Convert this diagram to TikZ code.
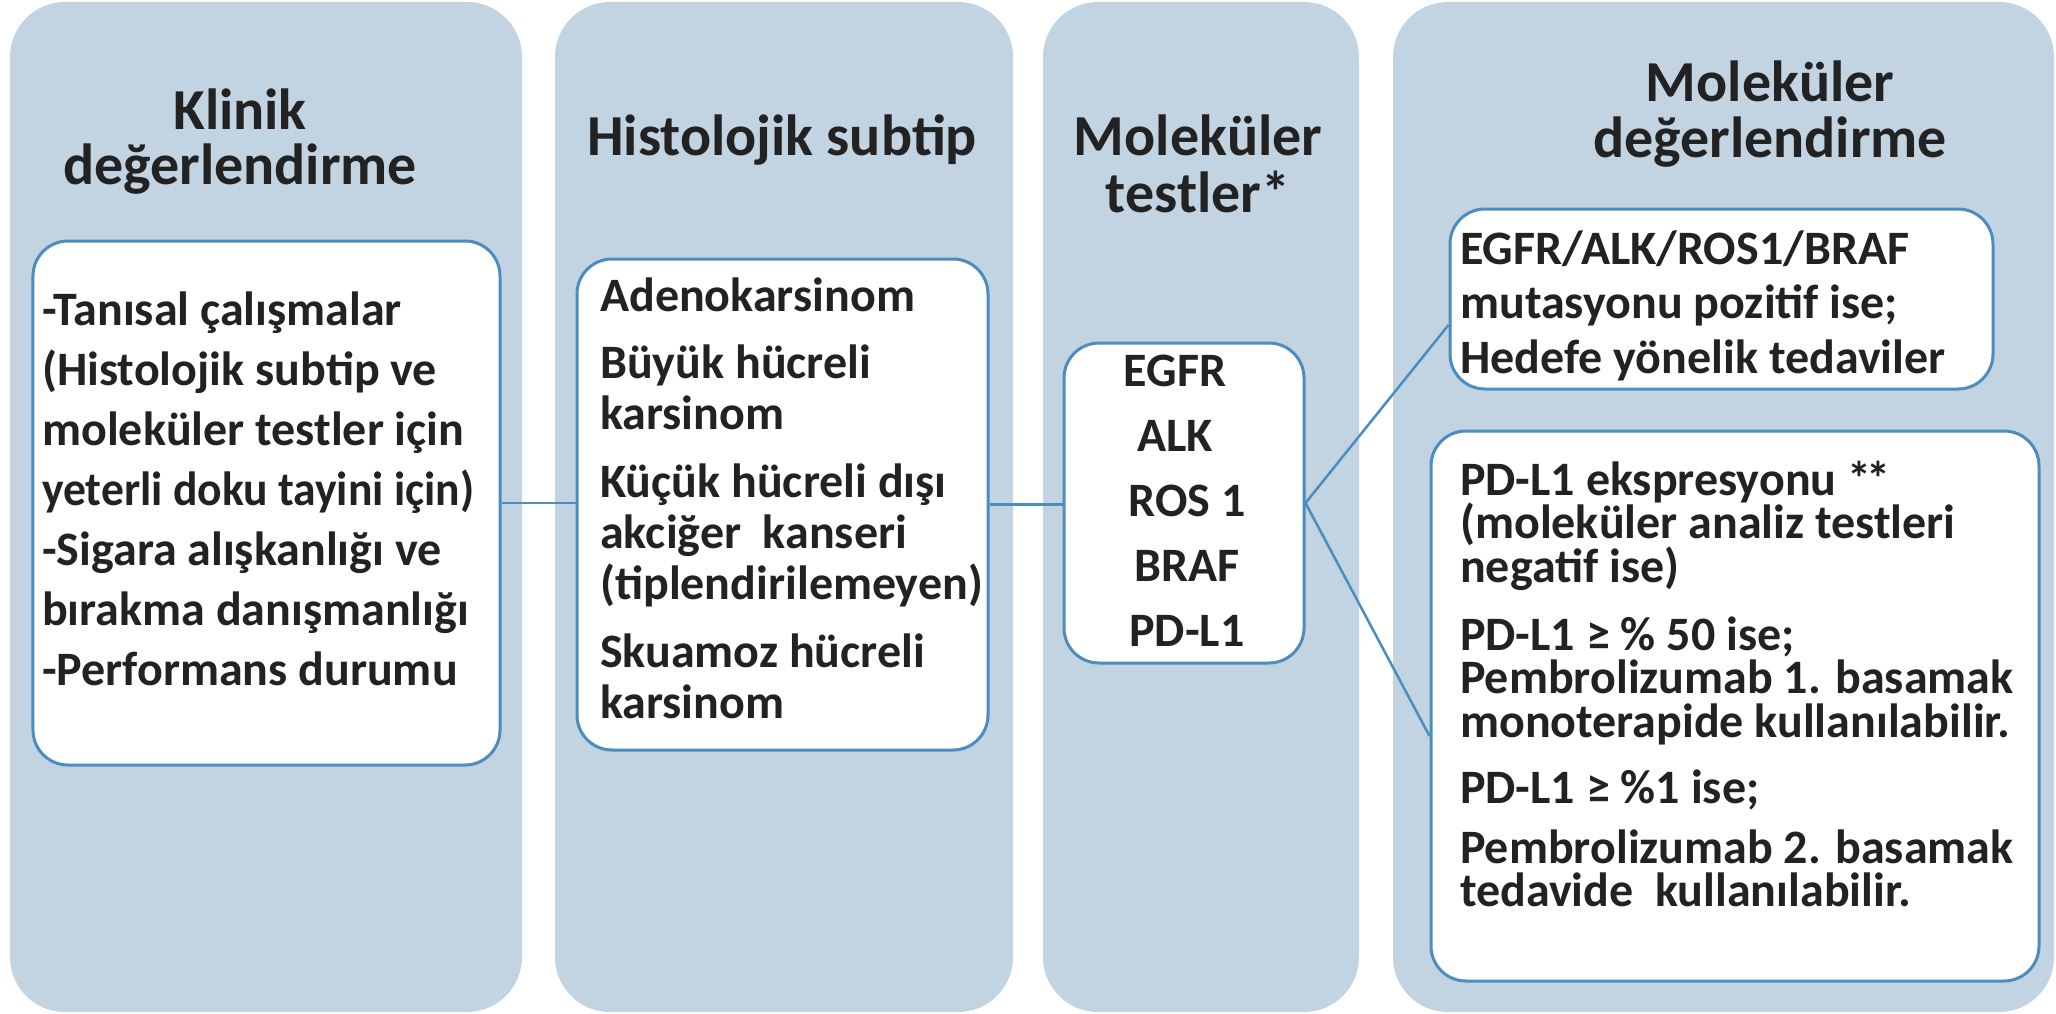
\documentclass[tikz,border=0pt]{standalone}
\usepackage{fontspec}
\setmainfont{Carlito}
\usetikzlibrary{calc}
\definecolor{panelblue}{HTML}{C2D4E2}
\definecolor{edgeblue}{HTML}{4A8DBE}
\definecolor{ink}{HTML}{222222}
% multi-line text block whose reference point is the first baseline
\newcommand{\cardtext}[3]{\parbox[t]{#1}{\setlength{\baselineskip}{#2}\raggedright #3}}
\newcommand{\headtext}[3]{\parbox[t]{#1}{\setlength{\baselineskip}{#2}\centering #3}}
\tikzset{
  panel/.style={fill=panelblue, draw=none, rounded corners=55bp, inner sep=0pt},
  card/.style={fill=white, draw=edgeblue, line width=3bp, rounded corners=35bp, inner sep=0pt},
  link/.style={draw=edgeblue, line width=2.5bp},
  head/.style={font=\bfseries\fontsize{58bp}{56bp}\selectfont, text=ink, inner sep=0pt, anchor=base},
  body/.style={font=\bfseries\fontsize{48bp}{57bp}\selectfont, text=ink, inner sep=0pt, anchor=base west},
}
\begin{document}
\begin{tikzpicture}[x=1bp,y=-1bp]
\useasboundingbox (0,0) rectangle (2056,1014);
\fill[white] (0,0) rectangle (2056,1014);

% column panels
\node[panel, minimum width=512bp, minimum height=1010bp] (p1) at (266,507) {};
\node[panel, minimum width=458bp, minimum height=1010bp] (p2) at (784,507) {};
\node[panel, minimum width=316bp, minimum height=1010bp] (p3) at (1201,507) {};
\node[panel, minimum width=661bp, minimum height=1010bp] (p4) at (1723.5,507) {};

% column headings
\node[head] (h1) at (240,129) {\headtext{500bp}{55bp}{Klinik\\değerlendirme}};
\node[head] (h2) at (782,155) {Histolojik subtip};
\node[head] (h3) at (1198,155) {\headtext{320bp}{57bp}{Moleküler\\testler*}};
\node[head] (h4) at (1770,101) {\headtext{640bp}{56bp}{Moleküler\\değerlendirme}};

% content cards
\node[card, minimum width=467bp, minimum height=524bp] (b1) at (266.5,503) {};
\node[card, minimum width=411bp, minimum height=491bp] (b2) at (782.5,504.5) {};
\node[card, minimum width=240bp, minimum height=320bp] (b3) at (1184,503) {};
\node[card, minimum width=543bp, minimum height=180bp] (b4a) at (1721.5,299) {};
\node[card, minimum width=608bp, minimum height=550bp] (b4b) at (1735,706) {};

% connectors
\draw[link] (b1.east) -- (b1.east -| b2.west);
\draw[link] (b2.east) -- (b2.east -| b3.west);
\draw[link] (b3.east) -- ($(b4a.west)+(0,26)$);
\draw[link] (b3.east) -- ($(b4b.west)+(0,30)$);

% card texts
\node[body] (t1) at (42,325) {\cardtext{520bp}{60bp}{-Tanısal çalışmalar\\(Histolojik subtip ve\\moleküler testler için\\\scalebox{0.95}[1]{yeterli doku tayini için)}\\-Sigara alışkanlığı ve\\bırakma danışmanlığı\\-Performans durumu}};
\node[body] (t2) at (600,311) {\cardtext{420bp}{51bp}{Adenokarsinom\\[16bp]Büyük hücreli\\karsinom\\[17bp]Küçük hücreli dışı\\akciğer\ \ kanseri\\(tiplendirilemeyen)\\[17bp]Skuamoz hücreli\\karsinom}};
\node[body, anchor=base] (t3) at (1187,386) {\headtext{230bp}{65bp}{\hspace*{-24bp}EGFR\\\hspace*{-24bp}ALK\\ROS 1\\BRAF\\PD-L1}};
\node[body] (t4a) at (1460,264) {\cardtext{540bp}{54.5bp}{EGFR/ALK/ROS1/BRAF\\mutasyonu pozitif ise;\\Hedefe yönelik tedaviler}};
\node[body] (t4b) at (1460,495) {\cardtext{600bp}{43.5bp}{PD-L1 ekspresyonu *\kern-5bp*\\(moleküler analiz testleri\\negatif ise)\\[24.5bp]PD-L1 ≥ \% 50 ise;\\Pembrolizumab 1. basamak\\monoterapide kullanılabilir.\\[23bp]PD-L1 ≥ \%1 ise;\\[16bp]Pembrolizumab 2. basamak\\tedavide\ \ kullanılabilir.}};
\end{tikzpicture}
\end{document}
